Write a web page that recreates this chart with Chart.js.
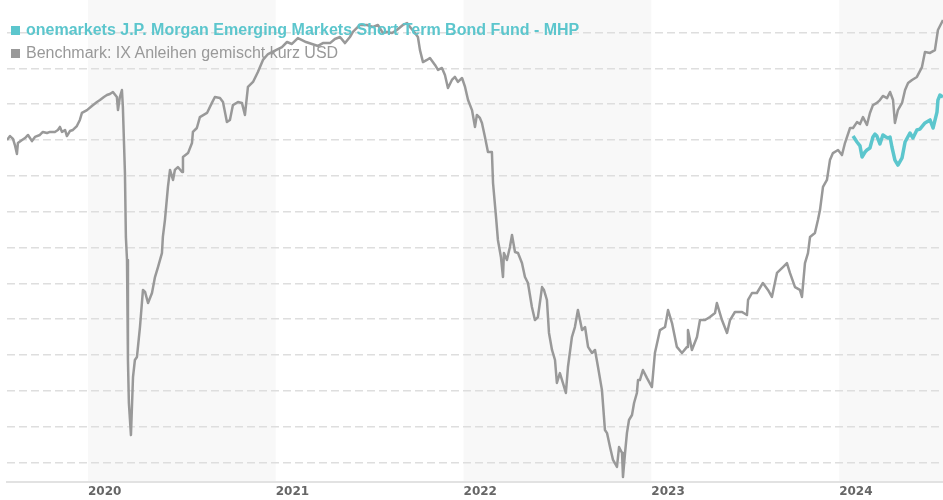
<!DOCTYPE html>
<html>
<head>
<meta charset="utf-8">
<script src="https://cdn.jsdelivr.net/npm/chart.js@4.4.1/dist/chart.umd.min.js"></script>
<style>
  html, body { margin: 0; padding: 0; background: #fff; }
  #wrap { position: relative; width: 943px; height: 500px; }
  #c { position: absolute; left: 0; top: 0; }
  .lg { position: absolute; white-space: nowrap; font-family: "Liberation Sans", Arial, sans-serif; font-size: 16px; line-height: 18px; }
  .sw { position: absolute; width: 9px; height: 9px; }
</style>
</head>
<body>
<div id="wrap">
  <canvas id="c" width="943" height="500"></canvas>
  <div class="sw" id="sw1" style="left:11px;top:26px;"></div>
  <div class="lg" id="lg1" style="left:26px;top:21px;font-weight:bold;"></div>
  <div class="sw" id="sw2" style="left:11px;top:49px;"></div>
  <div class="lg" id="lg2" style="left:26px;top:44px;"></div>
</div>
<script>
// ---- data (performance in %, x as decimal year) ----
const seriesNames = [
  "onemarkets J.P. Morgan Emerging Markets Short Term Bond Fund - MHP",
  "Benchmark: IX Anleihen gemischt kurz USD"
];
const seriesColors = ["#5cc6cd", "#999999"];

const benchYears = [
  2019.569,2019.585,2019.601,2019.611,2019.622,2019.627,2019.649,2019.665,2019.681,2019.702,
  2019.718,2019.744,2019.760,2019.782,2019.798,2019.824,2019.840,2019.851,2019.862,2019.878,
  2019.888,2019.904,2019.920,2019.941,2019.957,2019.968,2019.995,2020.021,2020.048,2020.064,
  2020.085,2020.101,2020.117,2020.133,2020.154,2020.160,2020.170,2020.181,2020.186,2020.197,
  2020.202,2020.208,2020.213,2020.218,2020.229,2020.240,2020.250,2020.261,2020.277,2020.293,
  2020.304,2020.320,2020.341,2020.357,2020.373,2020.394,2020.399,2020.410,2020.426,2020.437,
  2020.453,2020.463,2020.479,2020.501,2020.506,2020.533,2020.554,2020.559,2020.580,2020.596,
  2020.634,2020.660,2020.676,2020.703,2020.719,2020.740,2020.756,2020.772,2020.799,2020.820,
  2020.836,2020.852,2020.879,2020.905,2020.932,2020.959,2020.980,2021.001,2021.033,2021.060,
  2021.086,2021.118,2021.140,2021.161,2021.193,2021.225,2021.251,2021.289,2021.315,2021.342,
  2021.369,2021.395,2021.411,2021.448,2021.486,2021.518,2021.544,2021.571,2021.592,2021.619,
  2021.645,2021.677,2021.699,2021.715,2021.741,2021.757,2021.768,2021.784,2021.805,2021.821,
  2021.848,2021.864,2021.885,2021.901,2021.917,2021.938,2021.954,2021.970,2021.992,2022.008,
  2022.024,2022.045,2022.061,2022.071,2022.087,2022.098,2022.114,2022.130,2022.151,2022.157,
  2022.173,2022.183,2022.199,2022.210,2022.215,2022.231,2022.247,2022.258,2022.274,2022.290,
  2022.311,2022.327,2022.343,2022.364,2022.380,2022.396,2022.418,2022.428,2022.444,2022.455,
  2022.471,2022.487,2022.497,2022.513,2022.529,2022.545,2022.556,2022.577,2022.593,2022.609,
  2022.631,2022.647,2022.663,2022.684,2022.700,2022.716,2022.737,2022.753,2022.764,2022.780,
  2022.796,2022.817,2022.828,2022.844,2022.849,2022.860,2022.870,2022.881,2022.897,2022.908,
  2022.923,2022.929,2022.939,2022.955,2022.977,2023.003,2023.019,2023.046,2023.073,2023.089,
  2023.110,2023.136,2023.163,2023.190,2023.195,2023.216,2023.243,2023.259,2023.286,2023.312,
  2023.339,2023.349,2023.376,2023.403,2023.419,2023.445,2023.483,2023.509,2023.515,2023.536,
  2023.562,2023.594,2023.621,2023.642,2023.669,2023.701,2023.722,2023.738,2023.765,2023.791,
  2023.802,2023.818,2023.834,2023.845,2023.871,2023.887,2023.898,2023.914,2023.935,2023.951,
  2023.967,2023.994,2024.015,2024.031,2024.058,2024.074,2024.095,2024.111,2024.127,2024.148,
  2024.164,2024.180,2024.201,2024.217,2024.233,2024.255,2024.271,2024.287,2024.297,2024.313,
  2024.335,2024.351,2024.367,2024.388,2024.414,2024.441,2024.457,2024.484,2024.510,2024.526,
  2024.553
];
const benchValues = [
  0.00,0.22,0.06,-0.28,-0.78,-0.17,0.00,0.11,0.28,-0.06,
  0.17,0.28,0.45,0.39,0.45,0.45,0.56,0.73,0.45,0.56,
  0.22,0.50,0.56,0.78,1.12,1.51,1.67,1.90,2.12,2.23,
  2.40,2.51,2.57,2.68,2.40,1.67,2.40,2.79,1.84,-1.84,
  -5.41,-6.70,-12.28,-14.68,-16.47,-13.23,-12.28,-12.11,-10.44,-8.37,
  -8.48,-9.10,-8.54,-7.65,-7.09,-6.31,-5.41,-4.47,-2.62,-1.67,
  -2.23,-1.67,-1.51,-1.79,-0.95,-0.73,-0.17,0.45,0.67,1.28,
  1.51,2.07,2.40,2.34,2.12,1.00,1.12,1.95,2.12,2.07,
  1.40,2.96,3.24,3.80,4.47,4.80,4.91,5.02,5.19,5.47,
  5.36,5.69,5.58,5.47,5.36,5.25,5.41,5.41,5.64,5.75,
  5.41,5.75,6.03,6.42,6.42,6.31,6.42,5.97,6.03,5.97,
  6.14,6.42,6.53,6.31,5.97,5.75,5.02,4.35,4.47,4.58,
  4.19,3.91,4.02,3.63,2.90,3.35,3.52,3.24,3.46,2.96,
  2.23,1.67,0.73,1.40,1.23,0.95,0.17,-0.67,-0.67,-2.40,
  -4.30,-5.58,-6.53,-7.65,-6.31,-6.70,-5.97,-5.30,-6.25,-6.31,
  -6.87,-7.65,-7.98,-9.32,-10.05,-9.88,-8.21,-8.37,-8.93,-10.77,
  -11.72,-12.28,-13.56,-13.01,-13.56,-14.12,-12.67,-11.00,-10.44,-9.49,
  -10.61,-10.44,-11.55,-11.89,-11.72,-12.67,-13.96,-16.19,-16.36,-17.14,
  -17.86,-18.25,-17.14,-17.47,-18.81,-17.47,-16.36,-15.63,-15.35,-14.68,
  -14.12,-13.40,-13.40,-12.84,-13.29,-13.79,-11.89,-10.61,-10.44,-9.49,
  -10.22,-11.55,-11.89,-11.55,-10.61,-11.72,-11.00,-10.05,-10.05,-9.88,
  -9.66,-9.10,-10.05,-10.77,-10.05,-9.60,-9.60,-9.77,-8.93,-8.54,
  -8.54,-7.98,-8.37,-8.76,-7.42,-7.09,-6.87,-7.42,-8.21,-8.37,
  -8.76,-6.87,-6.31,-5.41,-5.19,-4.47,-3.91,-2.62,-2.23,-1.12,
  -0.73,-0.56,-0.84,-0.17,0.67,0.67,1.00,0.89,1.28,0.84,
  1.51,1.95,2.07,2.23,2.46,2.34,2.68,2.23,0.95,1.67,
  2.07,2.79,3.18,3.35,3.52,4.07,4.91,4.86,5.02,6.14,
  6.70
];

const fundYears = [
  2024.074,2024.095,2024.111,2024.122,2024.138,2024.148,2024.164,2024.180,2024.191,2024.201,
  2024.217,2024.233,2024.249,2024.260,2024.271,2024.281,2024.297,2024.313,2024.335,2024.351,
  2024.377,2024.393,2024.414,2024.430,2024.457,2024.484,2024.500,2024.521,2024.526,2024.537,
  2024.553
];
const fundValues = [
  0.22,-0.11,-0.33,-0.95,-0.67,-0.56,-0.45,0.17,0.33,0.22,
  -0.22,0.28,0.17,0.11,0.17,-0.39,-1.12,-1.40,-1.00,-0.11,
  0.39,0.11,0.56,0.61,0.95,1.12,0.67,1.56,2.23,2.51,
  2.40
];

const yearTicks = [2020, 2021, 2022, 2023, 2024];
const shadedYears = [2020, 2022, 2024];
const gridValues = [-18, -16, -14, -12, -10, -8, -6, -4, -2, 0, 2, 4, 6];
const xRange = [2019.569, 2024.553];
const yRange = [-19.09, 7.815];

// ---- legend (HTML text) ----
document.getElementById('lg1').textContent = seriesNames[0];
document.getElementById('lg1').style.color = seriesColors[0];
document.getElementById('sw1').style.background = seriesColors[0];
document.getElementById('lg2').textContent = seriesNames[1];
document.getElementById('lg2').style.color = seriesColors[1];
document.getElementById('sw2').style.background = seriesColors[1];

const yearBands = {
  id: 'yearBands',
  beforeDraw(chart) {
    const {ctx, chartArea, scales} = chart;
    ctx.save();
    ctx.fillStyle = '#f8f8f8';
    shadedYears.forEach(y => {
      const x0 = Math.max(scales.x.getPixelForValue(y), chartArea.left);
      const x1 = Math.min(scales.x.getPixelForValue(y + 1), chartArea.right);
      if (x1 > x0) ctx.fillRect(x0, 0, x1 - x0, chartArea.bottom);
    });
    ctx.restore();
  }
};

const toPts = (xs, ys) => xs.map((x, i) => ({x: x, y: ys[i]}));

new Chart(document.getElementById('c'), {
  type: 'line',
  data: {
    datasets: [
      {
        label: seriesNames[0],
        data: toPts(fundYears, fundValues),
        borderColor: seriesColors[0],
        borderWidth: 3.5,
        pointRadius: 0,
        tension: 0,
        borderJoinStyle: 'round'
      },
      {
        label: seriesNames[1],
        data: toPts(benchYears, benchValues),
        borderColor: seriesColors[1],
        borderWidth: 2.5,
        pointRadius: 0,
        tension: 0,
        borderJoinStyle: 'round'
      }
    ]
  },
  options: {
    responsive: false,
    animation: false,
    layout: { padding: { left: 7, right: 0, top: 0, bottom: 0 } },
    plugins: { legend: { display: false }, tooltip: { enabled: false } },
    scales: {
      x: {
        type: 'linear',
        min: xRange[0],
        max: xRange[1],
        afterBuildTicks: s => { s.ticks = yearTicks.map(v => ({ value: v })); },
        afterFit: s => { s.height = 18; },
        grid: { display: false, drawTicks: false },
        border: { display: true, color: '#e2e2e2', width: 2 },
        ticks: {
          align: 'start', padding: 3, color: '#666', autoSkip: false, maxRotation: 0,
          font: { family: 'DejaVu Sans', size: 12, weight: 'bold' },
          callback: v => String(v)
        }
      },
      y: {
        min: yRange[0],
        max: yRange[1],
        afterBuildTicks: s => { s.ticks = gridValues.map(v => ({ value: v })); },
        afterFit: s => { s.width = 0; },
        ticks: { display: false },
        border: { display: false, dash: [8, 4] },
        grid: { color: '#dedede', lineWidth: 1.5, drawTicks: false }
      }
    }
  },
  plugins: [yearBands]
});
</script>
</body>
</html>
